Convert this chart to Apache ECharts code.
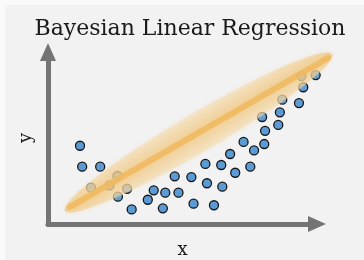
<!DOCTYPE html>
<html>
<head>
<meta charset="utf-8">
<script src="https://cdn.jsdelivr.net/npm/echarts@6/dist/echarts.min.js"></script>
<style>
  html, body { margin: 0; padding: 0; background: #ffffff; }
  #chart { width: 364px; height: 260px; }
</style>
</head>
<body>
<div id="chart"></div>
<script>
// observed points (x, y) on a 0..10 scale
var pointsX = [1.19, 1.27, 1.94, 2.58, 1.60, 2.29, 2.94, 2.60, 3.11, 3.71, 3.93, 4.27, 4.36,
  4.71, 4.85, 5.33, 5.41, 6.17, 5.91, 6.48, 5.85, 6.44, 6.96, 7.52, 6.77, 7.27, 7.66,
  8.04, 8.07, 8.56, 7.96, 8.62, 8.71, 9.33, 9.49, 9.42, 9.95];
var pointsY = [4.55, 3.33, 3.33, 2.79, 2.11, 2.25, 2.05, 1.59, 0.85, 1.41, 1.96, 0.91, 1.82,
  2.77, 1.82, 2.73, 1.18, 1.09, 2.37, 2.17, 3.49, 3.43, 2.98, 3.33, 4.07, 4.77, 4.28,
  4.65, 5.42, 5.76, 6.22, 6.49, 7.23, 7.03, 7.95, 8.60, 8.66];

// posterior mean line: start / end
var meanLine = [[0.82, 0.99], [10.41, 9.65]];
// uncertainty band: ends of the ellipse and half width (y units)
var bandEnds = [[0.63, 0.76], [10.56, 9.88]];
var bandHalfWidth = 1.3;

var chart = echarts.init(document.getElementById('chart'));

var scatterData = pointsX.map(function (x, i) { return [x, pointsY[i]]; });

function renderBand(params, api) {
  var p0 = api.coord([api.value(0), api.value(1)]);
  var p1 = api.coord([api.value(2), api.value(3)]);
  var l0 = api.coord([api.value(4), api.value(5)]);
  var l1 = api.coord([api.value(6), api.value(7)]);
  var cx = (p0[0] + p1[0]) / 2, cy = (p0[1] + p1[1]) / 2;
  var dx = p1[0] - p0[0], dy = p1[1] - p0[1];
  var len = Math.sqrt(dx * dx + dy * dy);
  var ux = dx / len, uy = dy / len;
  var nx = -uy, ny = ux;
  var a = len / 2;
  var b = api.size([0, api.value(8)])[1] * Math.abs(ux);
  var pts = [];
  for (var k = 0; k < 72; k++) {
    var t = k / 72 * Math.PI * 2;
    var u = a * Math.cos(t), v = b * Math.sin(t);
    pts.push([cx + ux * u + nx * v, cy + uy * u + ny * v]);
  }
  return {
    type: 'group',
    children: [{
      type: 'polygon',
      shape: { points: pts },
      style: {
        fill: {
          type: 'linear', global: true,
          x: cx - nx * b, y: cy - ny * b, x2: cx + nx * b, y2: cy + ny * b,
          colorStops: [
            { offset: 0, color: 'rgba(245,222,180,0.55)' },
            { offset: 0.5, color: 'rgba(240,196,120,0.72)' },
            { offset: 1, color: 'rgba(245,222,180,0.55)' }
          ]
        },
        shadowBlur: 4,
        shadowColor: 'rgba(240,210,160,0.6)'
      }
    }, {
      type: 'line',
      shape: { x1: l0[0], y1: l0[1], x2: l1[0], y2: l1[1] },
      style: { stroke: 'rgba(240,186,96,0.9)', lineWidth: 6, lineCap: 'round' }
    }]
  };
}

var axisLine = {
  show: true,
  symbol: ['none', 'triangle'],
  symbolSize: [16, 18],
  lineStyle: { color: '#747474', width: 5 }
};

var option = {
  backgroundColor: '#f2f2f2',
  animation: false,
  title: {
    text: 'Bayesian Linear Regression',
    left: 190, top: 18, textAlign: 'center',
    padding: 0,
    textStyle: { fontFamily: 'DejaVu Serif', fontWeight: 'normal', fontSize: 22, color: '#1a1a1a' }
  },
  graphic: [
    { type: 'rect', shape: { x: 0, y: 0, width: 5, height: 260 }, style: { fill: '#fafafa' }, z: 100 },
    { type: 'rect', shape: { x: 0, y: 0, width: 364, height: 5 }, style: { fill: '#fafafa' }, z: 100 }
  ],
  grid: { left: 48, top: 52, width: 269, height: 172, outerBoundsMode: 'none' },
  xAxis: {
    type: 'value', min: 0, max: 10,
    name: 'x', nameLocation: 'middle', nameGap: 17,
    nameTextStyle: { fontFamily: 'DejaVu Serif', fontSize: 18, color: '#1a1a1a' },
    axisLine: axisLine, axisTick: { show: false }, axisLabel: { show: false }, splitLine: { show: false }
  },
  yAxis: {
    type: 'value', min: 0, max: 10,
    name: 'y', nameLocation: 'middle', nameGap: 13, nameRotate: 90,
    nameTextStyle: { fontFamily: 'DejaVu Serif', fontSize: 18, color: '#1a1a1a' },
    axisLine: axisLine, axisTick: { show: false }, axisLabel: { show: false }, splitLine: { show: false }
  },
  series: [{
    type: 'scatter',
    data: scatterData,
    symbolSize: 9,
    itemStyle: { color: '#5b9bd5', borderColor: '#161616', borderWidth: 1.3, opacity: 1 },
    z: 2
  }, {
    type: 'custom',
    renderItem: renderBand,
    clip: false,
    data: [[bandEnds[0][0], bandEnds[0][1], bandEnds[1][0], bandEnds[1][1],
      meanLine[0][0], meanLine[0][1], meanLine[1][0], meanLine[1][1], bandHalfWidth]],
    z: 3
  }]
};

chart.setOption(option);
</script>
</body>
</html>
